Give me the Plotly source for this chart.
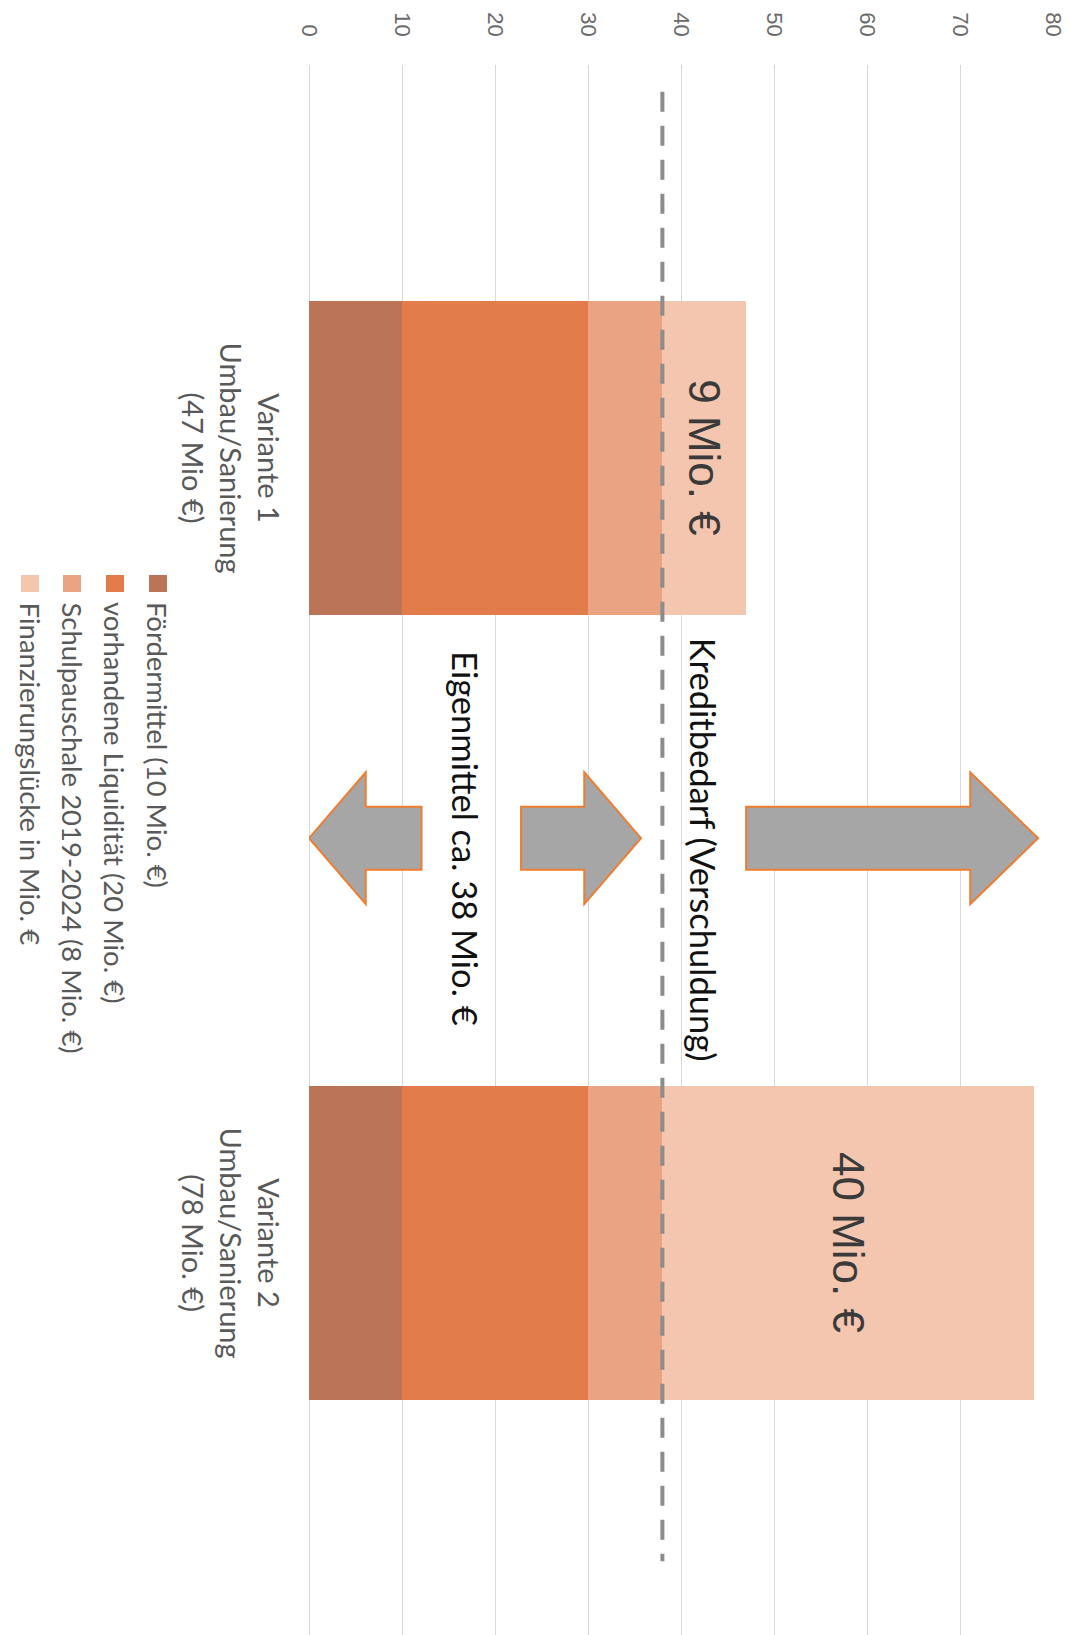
import plotly.graph_objects as go

categories = ["Variante 1", "Variante 2"]
cat_labels = ["Variante 1<br>Umbau/Sanierung<br>(47 Mio €)",
              "Variante 2<br>Umbau/Sanierung<br>(78 Mio. €)"]
foerdermittel = [10, 10]
liquiditaet = [20, 20]
schulpauschale = [8, 8]
luecke = [9, 40]
luecke_text = ["9 Mio. €", "40 Mio. €"]
series_names = ["Fördermittel (10 Mio. €)",
                "vorhandene Liquidität (20 Mio. €)",
                "Schulpauschale 2019-2024 (8 Mio. €)",
                "Finanzierungslücke in Mio. €"]
colors = ["#BC7459", "#E27D4B", "#EAA383", "#F4C6B0"]
x_ticks = [0, 10, 20, 30, 40, 50, 60, 70, 80]

eigenmittel = foerdermittel[0] + liquiditaet[0] + schulpauschale[0]
total1 = eigenmittel + luecke[0]
total2 = eigenmittel + luecke[1]

fig = go.Figure()
for name, vals, col in zip(series_names, [foerdermittel, liquiditaet, schulpauschale, luecke], colors):
    kw = {}
    if vals is luecke:
        kw = dict(text=luecke_text, textposition="inside", insidetextanchor="middle",
                  textangle=90, constraintext="none",
                  insidetextfont=dict(family="Liberation Sans, Arial", size=44, color="#3a3a3a"))
    fig.add_trace(go.Bar(y=categories, x=vals, name=name, orientation="h",
                         marker=dict(color=col, line=dict(width=0)), showlegend=False, **kw))

OFF = 8  # page body margin
W, H = 1062, 1627
L, R, T, B = 301, 17, 57, 0
fig.update_layout(
    width=W, height=H, barmode="stack", bargap=0.6,
    margin=dict(l=L, r=R, t=T, b=B),
    plot_bgcolor="white", paper_bgcolor="white",
    font=dict(family="Lato, Noto Sans, sans-serif", color="#595959"),
    xaxis=dict(range=[0, 80], tickvals=x_ticks, side="top", tickangle=90,
               tickfont=dict(size=22, color="#6a6a6a", family="Liberation Sans, Arial"),
               showgrid=True, gridcolor="#d9d9d9", gridwidth=1,
               zeroline=True, zerolinecolor="#d9d9d9", zerolinewidth=1,
               showline=False, ticks="", ticklabelstandoff=24),
    yaxis=dict(autorange="reversed", showticklabels=False, showgrid=False,
               zeroline=False, showline=False),
)

def px2paper_x(px):
    return (px - OFF - L) / (W - L - R)

def px2paper_y(py):
    return (H - (py - OFF)) / (H - T - B)

# category labels
for i, lab in enumerate(cat_labels):
    fig.add_annotation(x=px2paper_x(232), xref="paper", y=i, yref="y", text=lab,
                       textangle=90, showarrow=False, xanchor="center", yanchor="middle",
                       font=dict(size=29, color="#595959"))

# dashed line at Eigenmittel level
fig.add_shape(type="line", xref="x", yref="y", x0=eigenmittel, x1=eigenmittel,
              y0=-0.466, y1=1.406, line=dict(color="#8c8c8c", width=4, dash="20px,14px"))

# arrows
def arrow(x_start, x_tip, head_len, yc=0.485, shaft_h=0.04, head_h=0.084):
    d = 1 if x_tip > x_start else -1
    xb = x_tip - d * head_len
    return (f"M {x_start},{yc-shaft_h} L {xb},{yc-shaft_h} L {xb},{yc-head_h} L {x_tip},{yc} "
            f"L {xb},{yc+head_h} L {xb},{yc+shaft_h} L {x_start},{yc+shaft_h} Z")

arrow_style = dict(fillcolor="#a6a6a6", line=dict(color="#ED7D31", width=2), layer="above")
fig.add_shape(type="path", xref="x", yref="y", path=arrow(total1, total2 + 0.4, 7.3), **arrow_style)
fig.add_shape(type="path", xref="x", yref="y", path=arrow(22.8, eigenmittel - 2.3, 6.1), **arrow_style)
fig.add_shape(type="path", xref="x", yref="y", path=arrow(12.1, 0.0, 6.1), **arrow_style)

# arrow texts
fig.add_annotation(x=42.5, y=0.5, xref="x", yref="y", text="Kreditbedarf (Verschuldung)",
                   textangle=90, showarrow=False, font=dict(size=34.5, color="#111111"))
fig.add_annotation(x=16.9, y=0.485, xref="x", yref="y", text="Eigenmittel ca. 38 Mio. €",
                   textangle=90, showarrow=False, font=dict(size=34.5, color="#111111"))

# legend (rotated)
legend_x = [158, 115, 72, 30]
for px, name, col in zip(legend_x, series_names, colors):
    fig.add_shape(type="rect", xref="paper", yref="paper",
                  x0=px2paper_x(px - 9), x1=px2paper_x(px + 9),
                  y0=px2paper_y(592), y1=px2paper_y(575),
                  fillcolor=col, line=dict(width=0))
    fig.add_annotation(x=px2paper_x(px), y=px2paper_y(601), xref="paper", yref="paper",
                       text=name, textangle=90, showarrow=False, borderpad=0,
                       xanchor="center", yanchor="top",
                       font=dict(size=27.5, color="#595959"))

fig.write_html("out.html")
